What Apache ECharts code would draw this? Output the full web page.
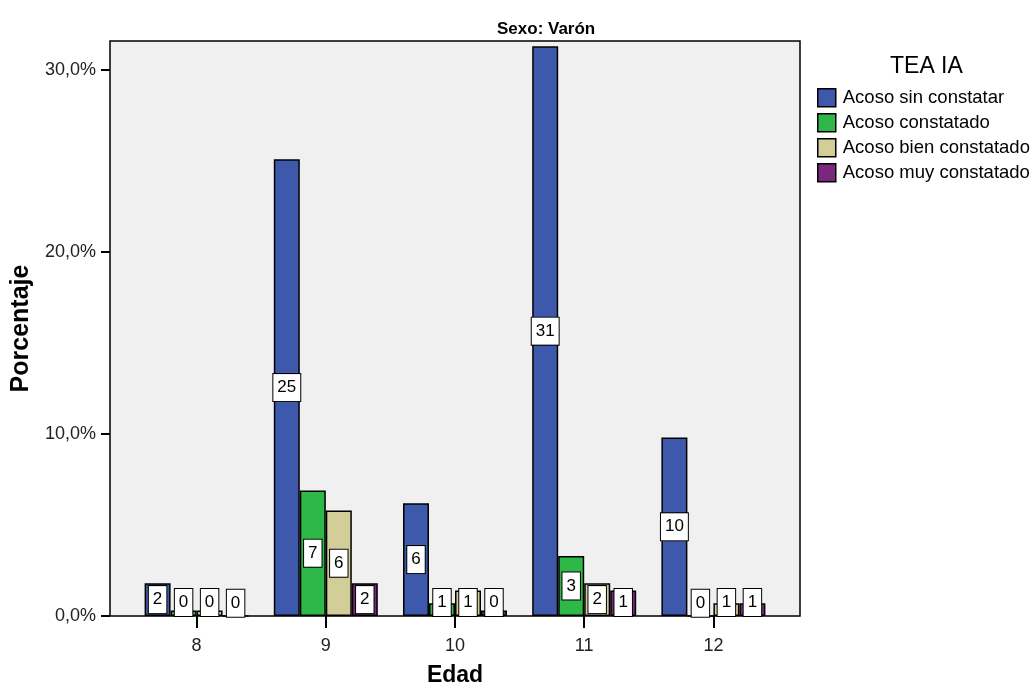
<!DOCTYPE html>
<html>
<head>
<meta charset="utf-8">
<script src="https://cdn.jsdelivr.net/npm/echarts@6/dist/echarts.min.js"></script>
<style>html,body{margin:0;padding:0;background:#fff;}#c{width:1035px;height:686px;}</style>
</head>
<body>
<div id="c"></div>
<script>
const categories = ['8', '9', '10', '11', '12'];
const seriesNames = ['Acoso sin constatar', 'Acoso constatado', 'Acoso bien constatado', 'Acoso muy constatado'];
const sinConstatar = [1.8, 25.1, 6.2, 31.3, 9.8];
const constatado = [0.3, 6.9, 0.7, 3.3, 0];
const bienConstatado = [0.3, 5.8, 1.4, 1.8, 0.7];
const muyConstatado = [0, 1.8, 0.3, 1.4, 0.7];
const yTicks = [0, 10, 20, 30];
const colors = ['#3e58ac', '#2eb848', '#d3ce97', '#7a287d'];

const FONT = 'Liberation Sans, Arial, sans-serif';
const YMAX = 31.59;

function mkData(arr) {
  return arr.map(v => ({
    value: v,
    label: { position: v < 1.54 ? 'insideBottom' : 'inside', distance: 0 }
  }));
}

const allSeries = [sinConstatar, constatado, bienConstatado, muyConstatado].map((arr, i) => ({
  name: seriesNames[i],
  type: 'bar',
  xAxisIndex: 1,
  yAxisIndex: 1,
  barWidth: 26,
  barGap: '0%',
  itemStyle: { color: colors[i], borderColor: '#000', borderWidth: 1.5 },
  data: mkData(arr),
  label: {
    show: true,
    formatter: p => String(Math.round(p.value)),
    color: '#000',
    fontFamily: FONT,
    fontSize: 17,
    backgroundColor: '#fff',
    borderColor: '#000',
    borderWidth: 1,
    padding: [5, 4, 5, 4]
  }
}));

const chart = echarts.init(document.getElementById('c'));
chart.setOption({
  animation: false,
  backgroundColor: '#fff',
  title: [
    { text: 'Sexo: Varón', left: 492, top: 16, textStyle: { fontFamily: FONT, fontSize: 17, fontWeight: 'bold', color: '#000' } },
    { text: 'TEA IA', left: 885, top: 50, textStyle: { fontFamily: FONT, fontSize: 23, fontWeight: 'normal', color: '#000' } }
  ],
  legend: {
    orient: 'vertical',
    left: 817,
    top: 88,
    padding: 0,
    itemWidth: 18,
    itemHeight: 18,
    itemGap: 5.5,
    icon: 'rect',
    itemStyle: { borderColor: '#000', borderWidth: 1.5 },
    textStyle: { fontFamily: FONT, fontSize: 18.5, color: '#000', lineHeight: 19, padding: [0, 0, 0, 2] },
    data: seriesNames
  },
  grid: [
    { left: 110, top: 41, width: 690, height: 575, show: true, backgroundColor: '#f0f0f0', borderColor: '#000', borderWidth: 1.5, containLabel: false, outerBoundsMode: 'none' },
    { left: 132, top: 41, width: 646, height: 575, containLabel: false, outerBoundsMode: 'none' }
  ],
  xAxis: [
    { gridIndex: 0, type: 'value', show: false },
    {
      gridIndex: 1, type: 'category', data: categories,
      axisLine: { show: false },
      axisTick: { show: true, alignWithLabel: true, length: 12, lineStyle: { color: '#000', width: 2 } },
      axisLabel: { margin: 21, fontFamily: FONT, fontSize: 18, color: '#222' },
      name: 'Edad', nameLocation: 'middle', nameGap: 48,
      nameTextStyle: { fontFamily: FONT, fontSize: 23, fontWeight: 'bold', color: '#000' }
    }
  ],
  yAxis: [
    {
      gridIndex: 0, type: 'value', min: 0, max: YMAX, interval: 10,
      splitLine: { show: false },
      axisLine: { show: false },
      axisTick: { show: true, length: 9, customValues: yTicks, lineStyle: { color: '#000', width: 2 } },
      axisLabel: {
        customValues: yTicks, margin: 14,
        fontFamily: FONT, fontSize: 18, color: '#222',
        formatter: v => v.toFixed(1).replace('.', ',') + '%'
      },
      name: 'Porcentaje', nameLocation: 'middle', nameGap: 70, nameRotate: 90,
      nameTextStyle: { fontFamily: FONT, fontSize: 25, fontWeight: 'bold', color: '#000' }
    },
    { gridIndex: 1, type: 'value', min: 0, max: YMAX, show: false, splitLine: { show: false } }
  ],
  series: allSeries
});
</script>
</body>
</html>
